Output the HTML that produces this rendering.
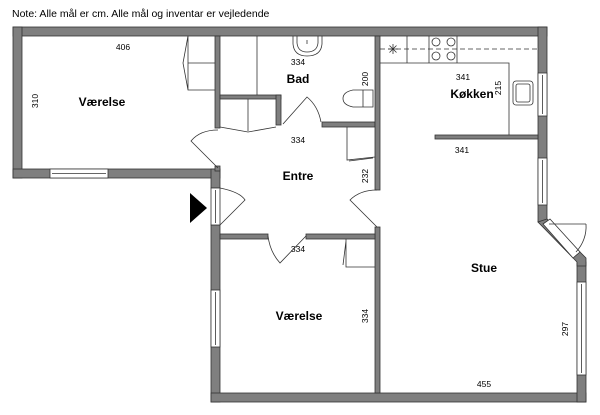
<!DOCTYPE html>
<html><head><meta charset="utf-8"><style>
html,body{margin:0;padding:0;background:#fff;width:600px;height:415px;overflow:hidden}
svg text{font-family:"Liberation Sans",sans-serif}
</style></head><body>
<svg width="600" height="415" viewBox="0 0 600 415" xmlns="http://www.w3.org/2000/svg">
<text x="12" y="17" font-size="10.5" fill="#000">Note: Alle mål er cm. Alle mål og inventar er vejledende</text>
<g fill="#7f7f7f" stroke="#333" stroke-width="0.8">
<!-- outer walls -->
<rect x="13" y="27" width="534" height="9"/>
<rect x="13" y="27" width="9" height="151"/>
<rect x="13" y="169" width="207" height="9"/>
<rect x="211" y="169" width="9" height="19"/>
<rect x="211" y="225" width="9" height="177"/>
<rect x="211" y="393" width="375" height="9"/>
<rect x="577" y="262" width="9" height="140"/>
<rect x="538" y="27" width="9" height="195"/>
<polygon points="538,222 547,219 586,258 586,266 577,266 577,262"/>
<!-- interior walls -->
<rect x="215" y="36" width="5" height="92"/>
<rect x="215" y="166" width="5" height="5"/>
<rect x="220" y="95" width="61" height="4"/>
<rect x="276" y="95" width="5" height="30"/>
<rect x="322" y="122" width="53" height="5"/>
<rect x="375" y="36" width="5" height="154"/>
<rect x="375" y="227" width="5" height="166"/>
<rect x="220" y="234" width="48" height="5"/>
<rect x="306" y="234" width="69" height="5"/>
<rect x="435" y="135" width="103" height="4"/>
</g>
<!-- windows -->
<g fill="#fff" stroke="#333" stroke-width="0.8">
<rect x="50" y="169" width="58" height="9"/><line x1="52" y1="173.5" x2="106" y2="173.5"/>
<rect x="211" y="290" width="9" height="57"/><line x1="215.5" y1="292" x2="215.5" y2="345"/>
<rect x="577" y="282" width="9" height="93"/><line x1="581.5" y1="284" x2="581.5" y2="373"/>
<rect x="538" y="73" width="9" height="43"/><line x1="542.5" y1="75" x2="542.5" y2="114"/>
<rect x="538" y="158" width="9" height="47"/><line x1="542.5" y1="160" x2="542.5" y2="203"/>
<rect x="211" y="188" width="9" height="37"/><line x1="215.5" y1="190" x2="215.5" y2="223"/>
<polygon points="543,224 550,219 580,252 573,258"/>
</g>
<g fill="none" stroke="#333" stroke-width="0.8">
<!-- bay door arc -->
<line x1="549" y1="224" x2="586" y2="224"/><path d="M586,224 A37,37 0 0 1 576,252"/>
<!-- entry door -->
<path d="M220,188 Q240,192 245,200 L220,225"/>
<!-- værelse1 door -->
<path d="M218,168 L191,141 Q200,130 218,130"/>
<!-- bad door -->
<path d="M283,124 L307,97 Q318,106 321,122"/>
<!-- stue door -->
<path d="M377,227 L350,200 Q360,190 377,190"/>
<!-- værelse2 door -->
<path d="M306,236 L280,263 Q270,252 268,236"/>
<!-- closet in entre area -->
<path d="M220,127 L248,132 L276,127"/><line x1="248" y1="99" x2="248" y2="131"/>
<path d="M347,127 L347,160 L375,157 M349,161 L373,158"/>
<!-- wardrobe værelse1 -->
<path d="M188,36 L183,63 L188,90 L215,90 M188,36 L188,90 M188,63 L215,63"/>
<!-- bad cabinet -->
<line x1="257" y1="36" x2="257" y2="95"/>
<!-- closet værelse2 -->
<path d="M346,239 L346,267 L375,267 M346,241 L343,265"/>
<!-- sink bad -->
<path d="M293,36 L293,44 Q294,56 307,56 Q321,56 322,44 L322,36"/>
<path d="M297,36 L297,43 Q298,52 307,52 Q317,52 318,43 L318,36"/>
<line x1="307" y1="40" x2="307" y2="44"/>
<!-- toilet -->
<path d="M373,90 L353,90 Q343,92 343,98.5 Q343,105 353,107 L373,107 Z"/>
<line x1="363" y1="90" x2="363" y2="107"/>
<!-- kitchen -->
<path d="M380,63 L509,63 L509,135"/>
<line x1="407" y1="36" x2="407" y2="63"/>
<line x1="429" y1="36" x2="429" y2="63"/>
<line x1="457" y1="36" x2="457" y2="63"/>
<line x1="380" y1="49" x2="537" y2="49" stroke-dasharray="5,3"/>
<circle cx="436" cy="42" r="4"/><circle cx="451" cy="42" r="4"/>
<circle cx="436" cy="56" r="4"/><circle cx="451" cy="56" r="4"/>
<path d="M388,49 L398,49 M393,44 L393,54 M389.5,45.5 L396.5,52.5 M396.5,45.5 L389.5,52.5"/>
<rect x="513" y="81" width="20" height="24" rx="3"/>
<rect x="516" y="84" width="14" height="18" rx="2"/>
</g>
<polygon points="190,193 190,223 207,208" fill="#000"/>
<g font-weight="bold" font-size="12" text-anchor="middle" fill="#000">
<text x="102" y="106">Værelse</text>
<text x="298" y="83">Bad</text>
<text x="472" y="98">Køkken</text>
<text x="298" y="180">Entre</text>
<text x="484" y="272">Stue</text>
<text x="299" y="320">Værelse</text>
</g>
<g font-size="8.5" text-anchor="middle" fill="#000">
<text x="123" y="50">406</text>
<text x="298" y="65">334</text>
<text x="298" y="143">334</text>
<text x="463" y="80">341</text>
<text x="462" y="153">341</text>
<text x="298" y="252">334</text>
<text x="484" y="387">455</text>
<text transform="translate(38,101) rotate(-90)">310</text>
<text transform="translate(368,79) rotate(-90)">200</text>
<text transform="translate(501,88) rotate(-90)">215</text>
<text transform="translate(368,176) rotate(-90)">232</text>
<text transform="translate(368,316) rotate(-90)">334</text>
<text transform="translate(568,329) rotate(-90)">297</text>
</g>
</svg>
</body></html>
